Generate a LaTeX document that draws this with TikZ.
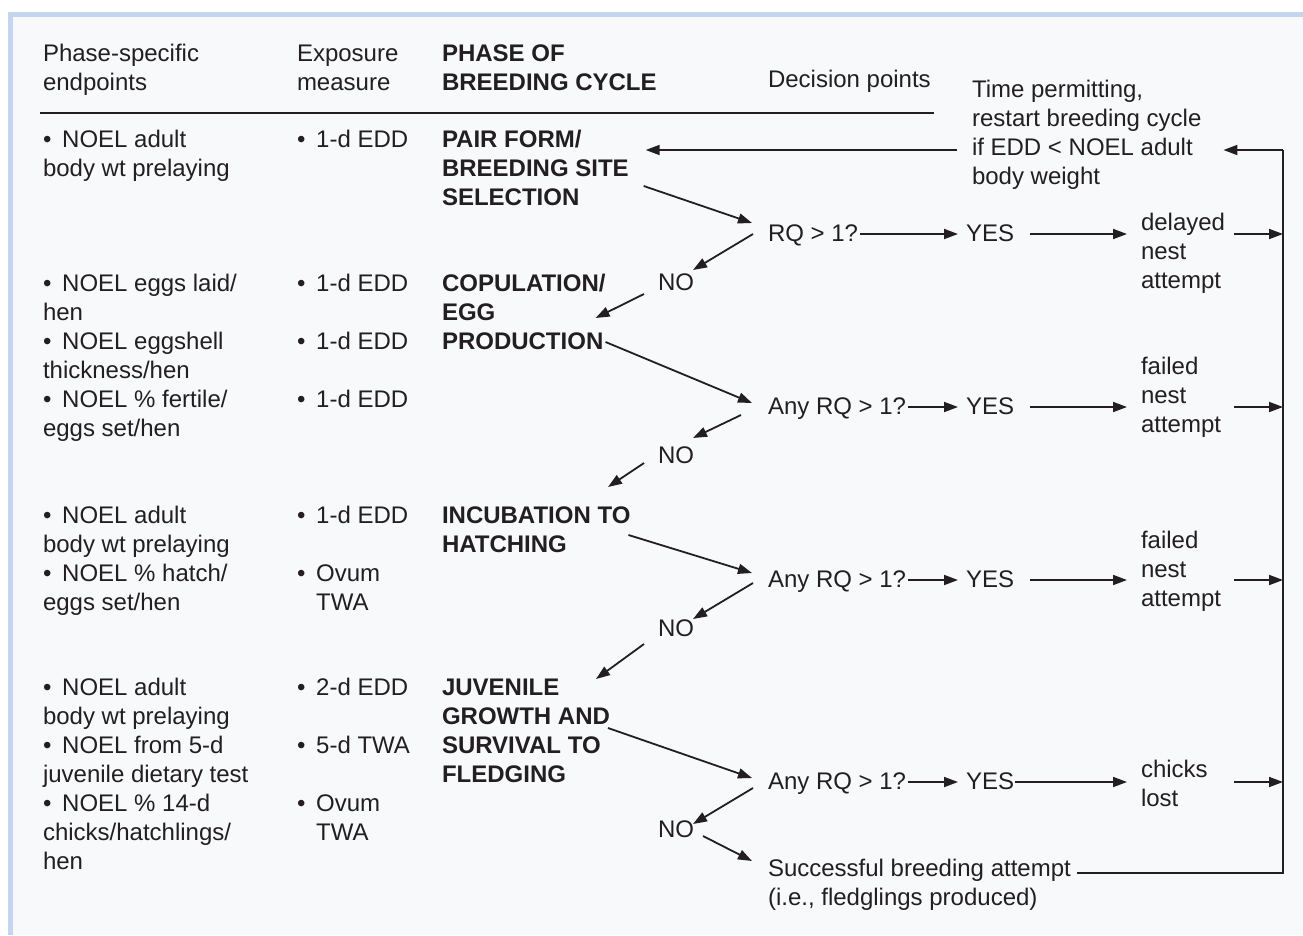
\documentclass[tikz,border=0pt]{standalone}
\usepackage{fontspec}
\setmainfont{Liberation Sans}
\usepackage{tikz}
\usetikzlibrary{arrows.meta,calc}
\definecolor{BreedInk}{HTML}{231F20}
\definecolor{BreedPaper}{HTML}{F8F9FB}
\definecolor{BreedFrame}{HTML}{C5D5EF}
\newcommand{\bpt}{\textbullet\hspace{0.45em}}
\newcommand{\brlines}[1]{\begin{tabular}[t]{@{}l@{}}#1\end{tabular}}
\tikzset{
  breed txt/.style={
    anchor=base west,
    inner sep=0pt,
    outer sep=0pt,
    text=BreedInk,
    font=\fontsize{24}{29}\selectfont
  },
  breed phase/.style={
    breed txt,
    font=\fontsize{24}{29}\selectfont\bfseries
  },
  breed arr/.style={-{Triangle[length=14pt,width=10pt]}, line width=1.8pt, draw=BreedInk},
  breed line/.style={line width=1.8pt, draw=BreedInk}
}

\begin{document}
\begin{tikzpicture}[x=1pt, y=-1pt]
  \useasboundingbox (0,0) rectangle (1303,935);
  \fill[white] (0,0) rectangle (1303,935);
  \fill[BreedPaper] (8,12) rectangle (1303,935);
  \fill[BreedFrame] (8,12) rectangle (1303,17);
  \fill[BreedFrame] (8,12) rectangle (13,935);

  \node[breed txt] (hend) at (43,61) {\brlines{Phase-specific\\endpoints}};
  \node[breed txt] (hexp) at (297,61) {\brlines{Exposure\\measure}};
  \node[breed phase] (hphase) at (442,61) {\brlines{PHASE OF\\BREEDING CYCLE}};
  \node[breed txt] (hdec) at (768,87) {Decision points};
  \draw[breed line] (40,113) -- (934,113);
  \node[breed txt] (restart) at (972,97)
    {\brlines{Time permitting,\\restart breeding cycle\\if EDD < NOEL adult\\body weight}};

  \node[breed txt] (ep1) at (43,147) {\brlines{\bpt NOEL adult\\body wt prelaying}};
  \node[breed txt] (ep2) at (43,291)
    {\brlines{\bpt NOEL eggs laid/\\hen\\\bpt NOEL eggshell\\thickness/hen\\\bpt NOEL \% fertile/\\eggs set/hen}};
  \node[breed txt] (ep3) at (43,523)
    {\brlines{\bpt NOEL adult\\body wt prelaying\\\bpt NOEL \% hatch/\\eggs set/hen}};
  \node[breed txt] (ep4) at (43,695)
    {\brlines{\bpt NOEL adult\\body wt prelaying\\\bpt NOEL from 5-d\\juvenile dietary test\\\bpt NOEL \% 14-d\\chicks/hatchlings/\\hen}};

  \node[breed txt] (ex1) at (297,147) {\bpt 1-d EDD};
  \node[breed txt] (ex2a) at (297,291) {\bpt 1-d EDD};
  \node[breed txt] (ex2b) at (297,349) {\bpt 1-d EDD};
  \node[breed txt] (ex2c) at (297,407) {\bpt 1-d EDD};
  \node[breed txt] (ex3a) at (297,523) {\bpt 1-d EDD};
  \node[breed txt] (ex3b) at (297,581) {\brlines{\bpt Ovum\\\phantom{\bpt}TWA}};
  \node[breed txt] (ex4a) at (297,695) {\bpt 2-d EDD};
  \node[breed txt] (ex4b) at (297,753) {\bpt 5-d TWA};
  \node[breed txt] (ex4c) at (297,811) {\brlines{\bpt Ovum\\\phantom{\bpt}TWA}};

  \node[breed phase] (pair) at (442,147) {\brlines{PAIR FORM/\\BREEDING SITE\\SELECTION}};
  \node[breed phase] (cop) at (442,291) {\brlines{COPULATION/\\EGG\\PRODUCTION}};
  \node[breed phase] (inc) at (442,523) {\brlines{INCUBATION TO\\HATCHING}};
  \node[breed phase] (juv) at (442,695) {\brlines{JUVENILE\\GROWTH AND\\SURVIVAL TO\\FLEDGING}};

  \node[breed txt] (rq1) at (768,241) {RQ > 1?};
  \node[breed txt] (rq2) at (768,414) {Any RQ > 1?};
  \node[breed txt] (rq3) at (768,587) {Any RQ > 1?};
  \node[breed txt] (rq4) at (768,789) {Any RQ > 1?};
  \node[breed txt] (no1) at (658,290) {NO};
  \node[breed txt] (no2) at (658,463) {NO};
  \node[breed txt] (no3) at (658,636) {NO};
  \node[breed txt] (no4) at (658,837) {NO};
  \node[breed txt] (yes1) at (966,241) {YES};
  \node[breed txt] (yes2) at (966,414) {YES};
  \node[breed txt] (yes3) at (966,587) {YES};
  \node[breed txt] (yes4) at (966,789) {YES};
  \node[breed txt] (out1) at (1141,230) {\brlines{delayed\\nest\\attempt}};
  \node[breed txt] (out2) at (1141,374) {\brlines{failed\\nest\\attempt}};
  \node[breed txt] (out3) at (1141,548) {\brlines{failed\\nest\\attempt}};
  \node[breed txt] (out4) at (1141,777) {\brlines{chicks\\lost}};
  \node[breed txt] (succ) at (768,876)
    {\brlines{Successful breeding attempt\\(i.e., fledglings produced)}};

  \coordinate (busTop) at (1283,150);
  \coordinate (busBot) at (1283,873);

  \draw[breed arr] ($(pair.base east)+(15,39)$) -- ($(rq1.base west)+(-16,-18)$);
  \draw[breed arr] ($(rq1.base west)+(-15,-7)$) -- ($(no1.base east)+(-1,-20)$);
  \draw[breed arr] ($(no1.base west)+(-14,4)$) -- ($(cop.base east)+(-10,27)$);
  \draw[breed arr] ($(cop.base east)+(0,51)$) -- ($(rq2.base west)+(-16,-11)$);
  \draw[breed arr] ($(rq2.base west)+(-27,1)$) -- ($(no2.base east)+(-1,-25)$);
  \draw[breed arr] ($(no2.base west)+(-14,0)$) -- ($(inc.base west)+(166,-36)$);
  \draw[breed arr] ($(inc.base east)+(-2,12)$) -- ($(rq3.base west)+(-16,-14)$);
  \draw[breed arr] ($(rq3.base west)+(-15,-4)$) -- ($(no3.base east)+(-1,-17)$);
  \draw[breed arr] ($(no3.base west)+(-14,8)$) -- ($(juv.base west)+(154,-16)$);
  \draw[breed arr] ($(juv.base east)+(-2,33)$) -- ($(rq4.base west)+(-16,-11)$);
  \draw[breed arr] ($(rq4.base west)+(-15,-1)$) -- ($(no4.base east)+(-1,-13)$);
  \draw[breed arr] ($(no4.base east)+(9,-1)$) -- ($(succ.base west)+(-16,-15)$);

  \foreach \r in {1,...,4}{
    \draw[breed arr] ($(rq\r.base east)+(2,-7)$) -- ($(yes\r.base west)+(-8,-7)$);
    \draw[breed arr] ($(yes\r.base east)+(220,-7)$) -- ($(busTop |- yes\r.base)+(0,-7)$);
  }
  \draw[breed arr] ($(yes1.base east)+(16,-7)$) -- ($(out1.west |- yes1.base)+(-14,-7)$);
  \draw[breed arr] ($(yes2.base east)+(16,-7)$) -- ($(out2.west |- yes2.base)+(-14,-7)$);
  \draw[breed arr] ($(yes3.base east)+(16,-7)$) -- ($(out3.west |- yes3.base)+(-14,-7)$);
  \draw[breed arr] ($(yes4.base east)+(1,-7)$) -- ($(out4.west |- yes4.base)+(-14,-7)$);

  \draw[breed line] ($(succ.base east)+(6,-3)$) -- (busBot) -- (busTop);
  \draw[breed arr] (busTop) -- ($(restart.base east)+(22,53)$);
  \draw[breed arr] ($(restart.base west)+(-15,53)$) -- ($(pair.base east)+(17,3)$);
\end{tikzpicture}
\end{document}
